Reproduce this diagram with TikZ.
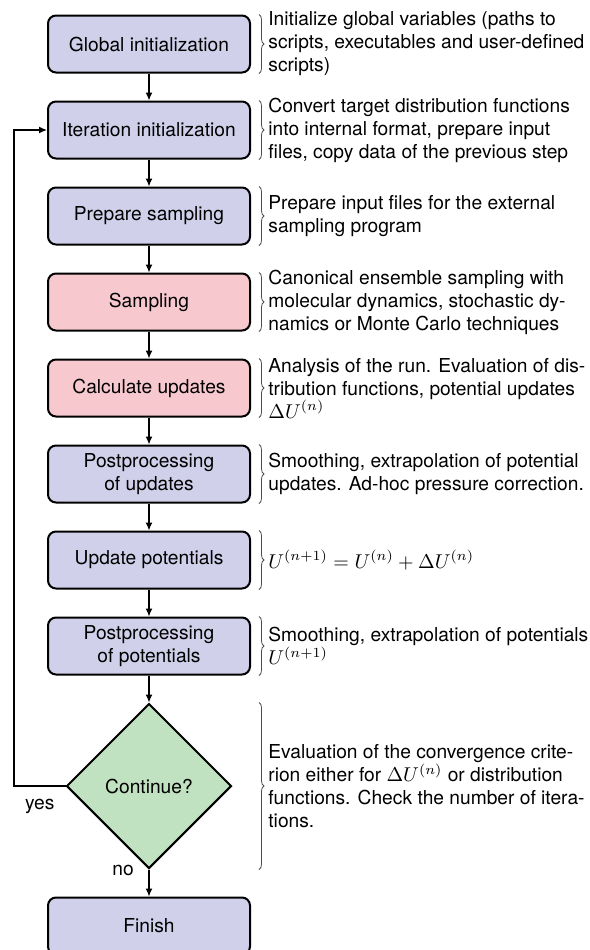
\documentclass[tikz,border=0pt]{standalone}
\usepackage{amsmath}
\usepackage{fontspec}
\setmainfont{TeX Gyre Heros}
\usepackage{tikz}
\usetikzlibrary{arrows.meta,positioning,shapes.geometric,decorations.pathreplacing}

\definecolor{stepblue}{RGB}{208,208,234}
\definecolor{stepred}{RGB}{248,200,207}
\definecolor{stepgreen}{RGB}{192,226,192}

\begin{document}
\begin{tikzpicture}[
    font=\fontsize{9.6}{11.5}\selectfont,
    node distance=13.5pt,
    stepbox/.style={draw, line width=1pt, rounded corners=4pt, fill=stepblue,
      minimum width=101pt, minimum height=28.5pt, align=center},
    runbox/.style={stepbox, fill=stepred},
    testbox/.style={draw, line width=1pt, diamond, fill=stepgreen,
      minimum width=82.5pt, minimum height=82.5pt, inner sep=0pt},
    desc/.style={inner sep=0pt, align=left},
    flow/.style={-{Latex[length=4pt,width=3.5pt]}, line width=0.65pt},
    brc/.style={decorate, decoration={brace,amplitude=2.5pt}, line width=0.4pt, black!70}]
  \useasboundingbox (0,0) rectangle (295pt,-475pt);
  \clip (0,0) rectangle (295pt,-475pt);

  % the steps
  \node[stepbox] (glob) at (74.5pt,-22pt) {Global initialization};
  \node[stepbox, below=of glob] (iter) {Iteration initialization};
  \node[stepbox, below=of iter] (prep) {Prepare sampling};
  \node[runbox, below=of prep] (samp) {Sampling};
  \node[runbox, below=of samp] (calc) {Calculate updates};
  \node[stepbox, below=of calc] (postu) {Postprocessing\\of updates};
  \node[stepbox, below=of postu] (updp) {Update potentials};
  \node[stepbox, below=of updp] (postp) {Postprocessing\\of potentials};
  \node[testbox, below=of postp] (cont) {Continue?};
  \node[stepbox, below=of cont] (fin) {Finish};

  \foreach \a/\b in {glob/iter,iter/prep,prep/samp,samp/calc,calc/postu,postu/updp,updp/postp,postp/cont}
    \draw[flow] (\a) -- (\b);
  \draw[flow] (cont) -- (fin) node[pos=0.05, left=4pt] {no};
  \coordinate (back) at (7pt,0);
  \draw[flow] (cont.west) -- (cont.west -| back) node[midway, below=3pt] {yes}
    |- (iter.west);

  % descriptions
  \node[desc, right=8.5pt of glob] (tglob) {Initialize global variables (paths to\\scripts, executables and user-defined\\scripts)};
  \node[desc, right=8.5pt of iter] (titer) {Convert target distribution functions\\into internal format, prepare input\\files, copy data of the previous step};
  \node[desc, right=8.5pt of prep] (tprep) {Prepare input files for the external\\sampling program};
  \node[desc, right=8.5pt of samp] (tsamp) {Canonical ensemble sampling with\\molecular dynamics, stochastic dy-\\namics or Monte Carlo techniques};
  \node[desc, right=8.5pt of calc] (tcalc) {Analysis of the run.  Evaluation of dis-\\tribution functions, potential updates\\$\Delta U^{(n)}$};
  \node[desc, right=8.5pt of postu] (tpostu) {Smoothing, extrapolation of potential\\updates.  Ad-hoc pressure correction.};
  \node[desc, right=8.5pt of updp] (tupdp) {$U^{(n+1)} = U^{(n)} + \Delta U^{(n)}$};
  \node[desc, right=8.5pt of postp] (tpostp) {Smoothing, extrapolation of potentials\\$U^{(n+1)}$};
  \node[desc, anchor=west] (tcont) at (cont -| tglob.west) {Evaluation of the convergence crite-\\rion either for $\Delta U^{(n)}$ or distribution\\functions.  Check the number of itera-\\tions.};

  % braces
  \coordinate (bx) at ([xshift=4pt]glob.east);
  \foreach \n in {glob,iter,prep,samp,calc,postu,updp,postp,cont}
    \draw[brc] (\n.north -| bx) -- (\n.south -| bx);
\end{tikzpicture}
\end{document}
